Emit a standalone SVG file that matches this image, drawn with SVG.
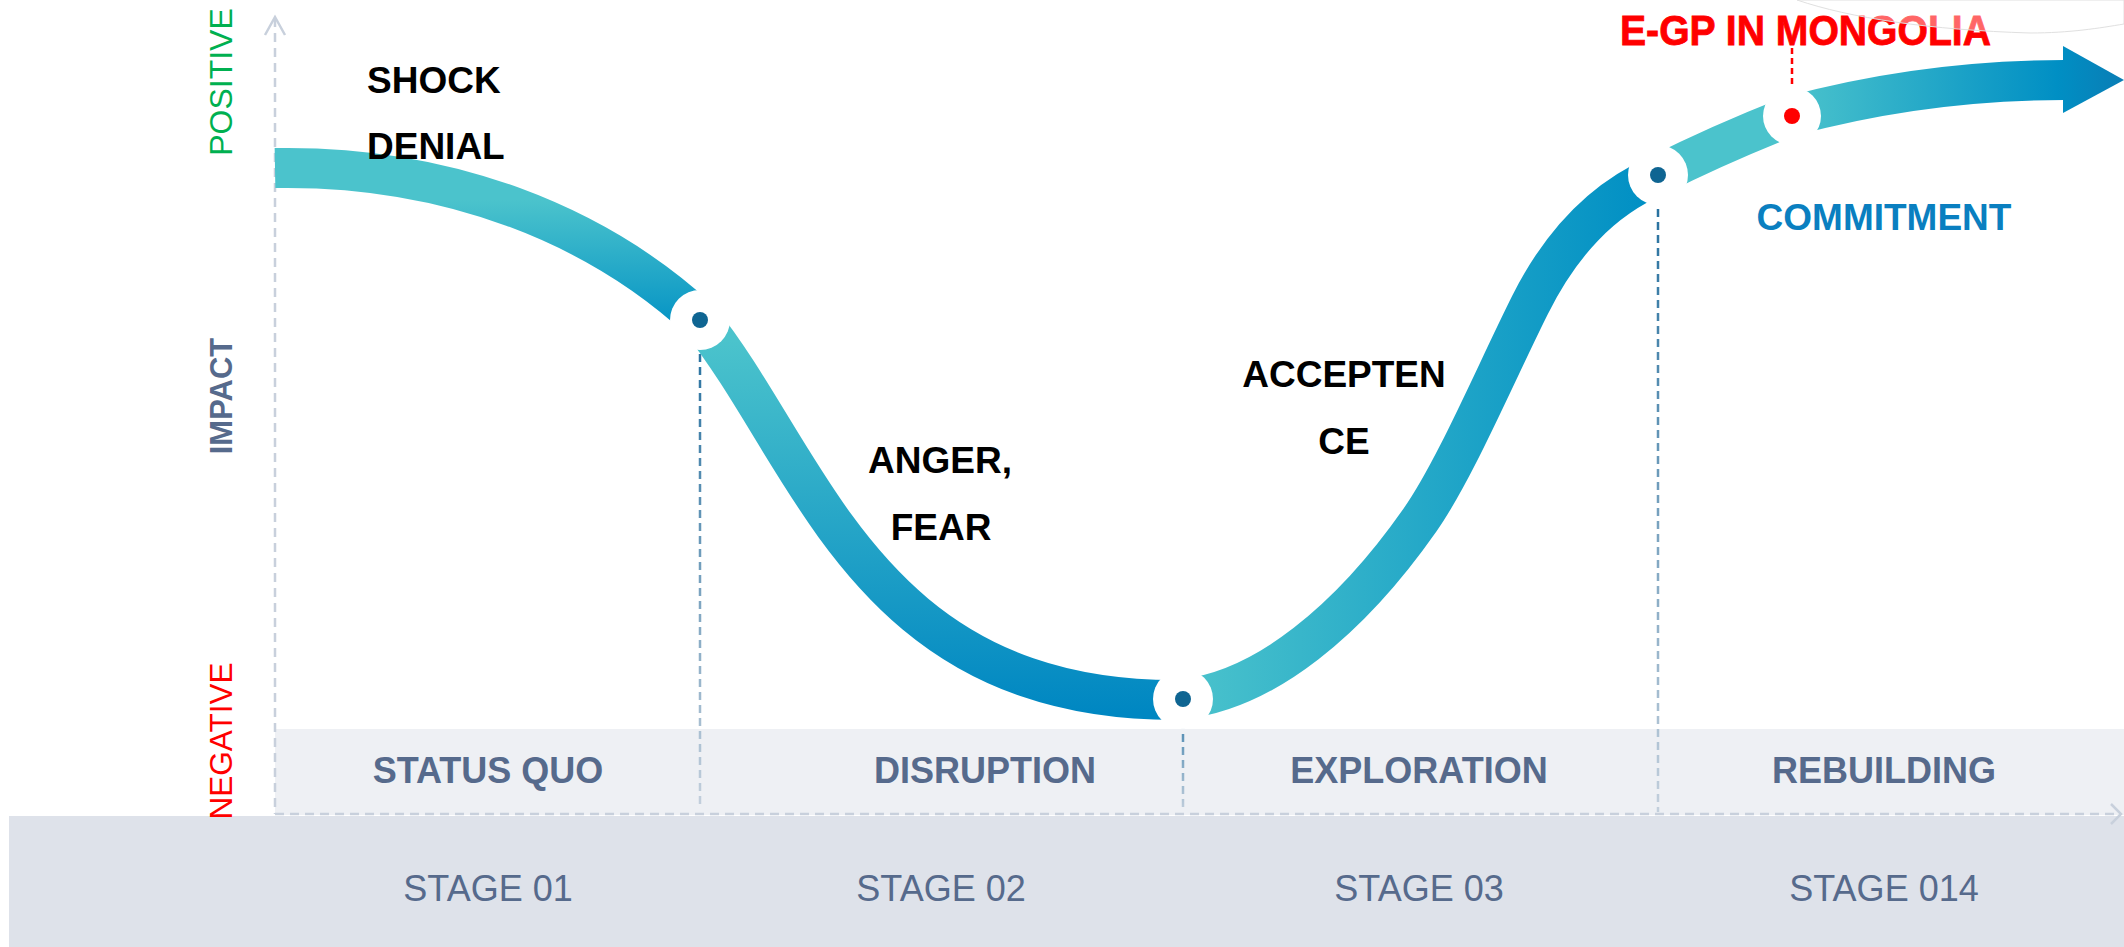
<svg xmlns="http://www.w3.org/2000/svg" width="2124" height="947" viewBox="0 0 2124 947">
<defs>
<style>
.t{font-family:"Liberation Sans",Arial,sans-serif}
.emo{font-family:"Liberation Sans",Arial,sans-serif;font-weight:bold;font-size:37px;fill:#000;text-anchor:middle}
.emo.left{text-anchor:start}
.band{font-family:"Liberation Sans",Arial,sans-serif;font-weight:bold;font-size:36px;fill:#566a8c;text-anchor:middle}
.stage{font-family:"Liberation Sans",Arial,sans-serif;font-size:36px;fill:#566a8c;text-anchor:middle}
.axis{stroke:#c8d0dc;stroke-width:2.5;stroke-dasharray:9 6;fill:none}
.chev{stroke:#c8d0dc;stroke-width:2.5;fill:none}
.rib{fill:none;stroke-width:40;stroke-linecap:butt}
.knock{fill:#fff}
.dot{fill:#0f6592}
.div{stroke-width:2.5;stroke-dasharray:8 5;fill:none}
</style>
<linearGradient id="g1" gradientUnits="userSpaceOnUse" x1="0" y1="200" x2="0" y2="335"><stop offset="0" stop-color="#4bc3cc"/><stop offset="1" stop-color="#0090c4"/></linearGradient>
<linearGradient id="g2" gradientUnits="userSpaceOnUse" x1="0" y1="340" x2="0" y2="712"><stop offset="0" stop-color="#4bc3cc"/><stop offset="1" stop-color="#0087c2"/></linearGradient>
<linearGradient id="g3" gradientUnits="userSpaceOnUse" x1="1183" y1="0" x2="1650" y2="0"><stop offset="0" stop-color="#4bc3cc"/><stop offset="1" stop-color="#008fc4"/></linearGradient>
<linearGradient id="g5" gradientUnits="userSpaceOnUse" x1="1791" y1="0" x2="2124" y2="0"><stop offset="0" stop-color="#4bc3cc"/><stop offset="0.8" stop-color="#008fc4"/><stop offset="1" stop-color="#0a7db5"/></linearGradient>
<linearGradient id="d1" gradientUnits="userSpaceOnUse" x1="0" y1="320" x2="0" y2="806"><stop offset="0" stop-color="#1f6c9c"/><stop offset="1" stop-color="#c3cfdc"/></linearGradient>
<linearGradient id="d2" gradientUnits="userSpaceOnUse" x1="0" y1="700" x2="0" y2="812"><stop offset="0" stop-color="#2f78a6"/><stop offset="1" stop-color="#c3cfdc"/></linearGradient>
<linearGradient id="d3" gradientUnits="userSpaceOnUse" x1="0" y1="175" x2="0" y2="812"><stop offset="0" stop-color="#1f6c9c"/><stop offset="1" stop-color="#c3cfdc"/></linearGradient>
</defs>

<g id="background">
<rect x="275" y="729" width="1849" height="86" fill="#eef0f4"/>
<rect x="9" y="816" width="2115" height="131" fill="#dee2ea"/>
</g>

<g id="axes">
<line class="axis" x1="275" y1="18" x2="275" y2="814"/>
<polyline class="chev" points="265,35 275,17 285,35"/>
<line class="axis" x1="275" y1="814" x2="2118" y2="814"/>
<polyline class="chev" points="2111,804 2121,814 2111,824"/>
<text class="t" transform="translate(232,82) rotate(-90)" text-anchor="middle" font-size="32" fill="#00b050">POSITIVE</text>
<text class="t" transform="translate(232,396) rotate(-90)" text-anchor="middle" font-size="31" font-weight="bold" fill="#566a8c">IMPACT</text>
<text class="t" transform="translate(232,741) rotate(-90)" text-anchor="middle" font-size="31.5" fill="#ff0000">NEGATIVE</text>
</g>

<g id="connectors">
<line class="div" x1="700" y1="328" x2="700" y2="806" stroke="url(#d1)"/>
<line class="div" x1="1183" y1="708" x2="1183" y2="812" stroke="url(#d2)"/>
<line class="div" x1="1658" y1="183" x2="1658" y2="812" stroke="url(#d3)"/>
<line x1="1792" y1="48" x2="1792" y2="108" stroke="#ff0000" stroke-width="2.5" stroke-dasharray="6 4"/>
<path class="rib" stroke="url(#g1)" d="M275,168 C447,165 596,224 700,320"/>
<path class="rib" stroke="url(#g2)" d="M700,320 C813,461 867,704 1183,700"/>
<path class="rib" stroke="url(#g3)" d="M1183,699 C1265,690 1350,620 1420,520 C1455,470 1495,375 1530,305 C1560,245 1600,200 1658,175"/>
<path class="rib" stroke="#4bc3cc" d="M1658,175 Q1722,143 1791,116"/>
<path class="rib" stroke="url(#g5)" d="M1791,116 C1880,92 1970,80 2064,80"/>
<polygon points="2063,46 2124,80 2063,113" fill="url(#g5)"/>
</g>

<g id="node-shock">
<circle class="knock" cx="700" cy="320" r="30"/>
<circle class="dot" cx="700" cy="320" r="8"/>
<text class="emo left" x="367" y="93">SHOCK</text>
<text class="emo left" x="367" y="159">DENIAL</text>
</g>

<g id="node-anger">
<circle class="knock" cx="1183" cy="699" r="30"/>
<circle class="dot" cx="1183" cy="699" r="8"/>
<text class="emo" x="940" y="473">ANGER,</text>
<text class="emo" x="941" y="540">FEAR</text>
</g>

<g id="node-acceptance">
<circle class="knock" cx="1658" cy="175" r="30"/>
<circle class="dot" cx="1658" cy="175" r="8"/>
<text class="emo" x="1344" y="387">ACCEPTEN</text>
<text class="emo" x="1344" y="454">CE</text>
</g>

<g id="node-commitment">
<circle class="knock" cx="1792" cy="116" r="29"/>
<circle cx="1792" cy="116" r="8" fill="#ff0000"/>
<text class="emo" x="1884" y="230" style="fill:#0a7fc0">COMMITMENT</text>
<text class="t" x="1620" y="45" font-size="42" font-weight="bold" fill="#ff0000" stroke="#ff0000" stroke-width="0.8" textLength="371" lengthAdjust="spacingAndGlyphs">E-GP IN MONGOLIA</text>
</g>

<g id="overlay">
<path d="M1797,0 C1850,18 1930,30 2030,33 C2070,33 2100,28 2124,24 L2124,0 Z" fill="#ffffff" fill-opacity="0.4" stroke="#e0e0e0" stroke-width="1"/>
</g>

<g id="stage-1">
<text class="band" x="488" y="783">STATUS QUO</text>
<text class="stage" x="488" y="901">STAGE 01</text>
</g>
<g id="stage-2">
<text class="band" x="985" y="783">DISRUPTION</text>
<text class="stage" x="941" y="901">STAGE 02</text>
</g>
<g id="stage-3">
<text class="band" x="1419" y="783">EXPLORATION</text>
<text class="stage" x="1419" y="901">STAGE 03</text>
</g>
<g id="stage-4">
<text class="band" x="1884" y="783">REBUILDING</text>
<text class="stage" x="1884" y="901">STAGE 014</text>
</g>
</svg>
